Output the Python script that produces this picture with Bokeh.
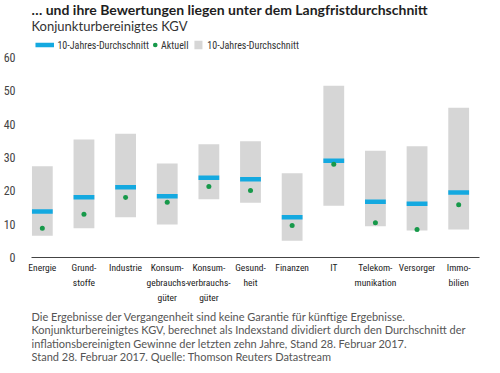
from bokeh.plotting import figure
from bokeh.layouts import column
from bokeh.models import Range1d, FixedTicker, Label
from bokeh.embed import file_html
from bokeh.resources import INLINE

# ---- data ----
categories = ["Energie", "Grund-\nstoffe", "Industrie", "Konsum-\ngebrauchs-\ngüter",
              "Konsum-\nverbrauchs-\ngüter", "Gesund-\nheit", "Finanzen", "IT",
              "Telekom-\nmunikation", "Versorger", "Immo-\nbilien"]
range_high = [27.4, 35.4, 37.1, 28.2, 34.0, 34.9, 25.3, 51.5, 32.0, 33.4, 44.9]
range_low = [6.5, 8.8, 12.1, 9.9, 17.5, 16.4, 5.0, 15.5, 9.4, 8.1, 8.4]
avg_10y = [13.8, 18.1, 21.1, 18.4, 23.9, 23.5, 12.1, 29.0, 16.7, 16.1, 19.5]
current = [8.8, 13.0, 18.0, 16.6, 21.3, 20.1, 9.6, 28.0, 10.4, 8.4, 15.8]
y_ticks = [0, 10, 20, 30, 40, 50, 60]

title = "… und ihre Bewertungen liegen unter dem Langfristdurchschnitt"
subtitle = "Konjunkturbereinigtes KGV"
legend_avg = "10-Jahres-Durchschnitt"
legend_cur = "Aktuell"
legend_rng = "10-Jahres-Durchschnitt"
footnotes = [
    "Die Ergebnisse der Vergangenheit sind keine Garantie für künftige Ergebnisse.",
    "Konjunkturbereinigtes KGV, berechnet als Indexstand dividiert durch den Durchschnitt der",
    "inflationsbereinigten Gewinne der letzten zehn Jahre, Stand 28. Februar 2017.",
    "Stand 28. Februar 2017. Quelle: Thomson Reuters Datastream",
]

# ---- style ----
BLUE = "#14a9e0"
GREEN = "#17994a"
GRAY = "#d6d6d6"
NARROW = "Roboto Condensed, Liberation Sans"
SANS = "Lato"
W = 484
HEAD_H, MAIN_H, FOOT_H = 51, 254, 60
LEFT = 24
LEG_Y = 44.5          # legend row centre (header pixels)
KEY_AVG = (4.3, 24.3)  # blue key x-extent
KEY_CUR = 133.7        # green key centre
KEY_RNG = (176.0, 184.7)  # gray key x-extent
LBL_X = (28.0, 140.0, 190.0)

xs = list(range(len(categories)))
half = 0.25
x0 = [x - half for x in xs]
x1 = [x + half for x in xs]


def blank(height):
    f = figure(width=W, height=height, output_backend="svg", toolbar_location=None,
               title=None, x_axis_type=None, y_axis_type=None,
               x_range=Range1d(0, W), y_range=Range1d(height, 0),
               min_border=0, min_border_left=0, min_border_right=0,
               min_border_top=0, min_border_bottom=0)
    f.outline_line_color = None
    f.grid.visible = False
    return f


def lab(text, x, y, size, color, font, style="normal"):
    return Label(x=x, y=y, text=text, text_font=font, text_font_size=size,
                 text_color=color, text_font_style=style, text_baseline="middle",
                 text_align="left")


# ---- header: title, subtitle, legend ----
head = blank(HEAD_H)
head.add_layout(lab(title, 0, 9, "14px", "#1e1e1e", SANS, "bold"))
head.add_layout(lab(subtitle, 0, 25.5, "13px", "#333333", SANS))

# legend keys (pixel positions in the header)
head.segment(x0=[KEY_AVG[0]], y0=[LEG_Y], x1=[KEY_AVG[1]], y1=[LEG_Y],
             line_color=BLUE, line_width=4.5, line_cap="butt")
head.scatter(x=[KEY_CUR], y=[LEG_Y], size=4.6, fill_color=GREEN, line_color=None)
head.quad(left=[KEY_RNG[0]], right=[KEY_RNG[1]], top=[LEG_Y - 4.3], bottom=[LEG_Y + 4.3],
          fill_color=GRAY, line_color=None)
for txt, lx in zip([legend_avg, legend_cur, legend_rng], LBL_X):
    head.add_layout(lab(txt, lx, LEG_Y, "10px", "#333333", NARROW))

# ---- main chart ----
p = figure(width=W, height=MAIN_H, output_backend="svg", toolbar_location=None, title=None,
           x_range=Range1d(-0.26, 10.5), y_range=Range1d(0, 60),
           min_border_left=LEFT, min_border_right=5, min_border_top=6,
           min_border_bottom=43)
p.outline_line_color = None
p.grid.visible = False

p.vbar(x=xs, width=0.5, bottom=range_low, top=range_high, fill_color=GRAY, line_color=None)
p.segment(x0=x0, y0=avg_10y, x1=x1, y1=avg_10y, line_color=BLUE, line_width=4.5,
          line_cap="butt")
p.scatter(x=xs, y=current, size=5, fill_color=GREEN, line_color=None)

ya = p.yaxis[0]
ya.ticker = FixedTicker(ticks=y_ticks)
ya.axis_line_color = None
ya.major_tick_line_color = None
ya.minor_tick_line_color = None
ya.major_label_standoff = 10
ya.major_label_text_font = NARROW
ya.major_label_text_font_size = "12px"
ya.major_label_text_color = "#444444"

xa = p.xaxis[0]
xa.ticker = FixedTicker(ticks=xs)
xa.major_label_overrides = {x: c for x, c in zip(xs, categories)}
xa.axis_line_color = "#444444"
xa.axis_line_width = 1
xa.major_tick_line_color = None
xa.minor_tick_line_color = None
xa.major_label_standoff = -2
xa.major_label_text_font = NARROW
xa.major_label_text_font_size = "9.5px"
xa.major_label_text_line_height = 1.37
xa.major_label_text_color = "#222222"

# ---- footer: notes ----
foot = blank(FOOT_H)
for i, line in enumerate(footnotes):
    foot.add_layout(lab(line, 0, 10.7 + i * 13.5, "11px", "#555555", SANS))

layout = column(head, p, foot, spacing=0)
open("out.html", "w").write(file_html(layout, INLINE))
